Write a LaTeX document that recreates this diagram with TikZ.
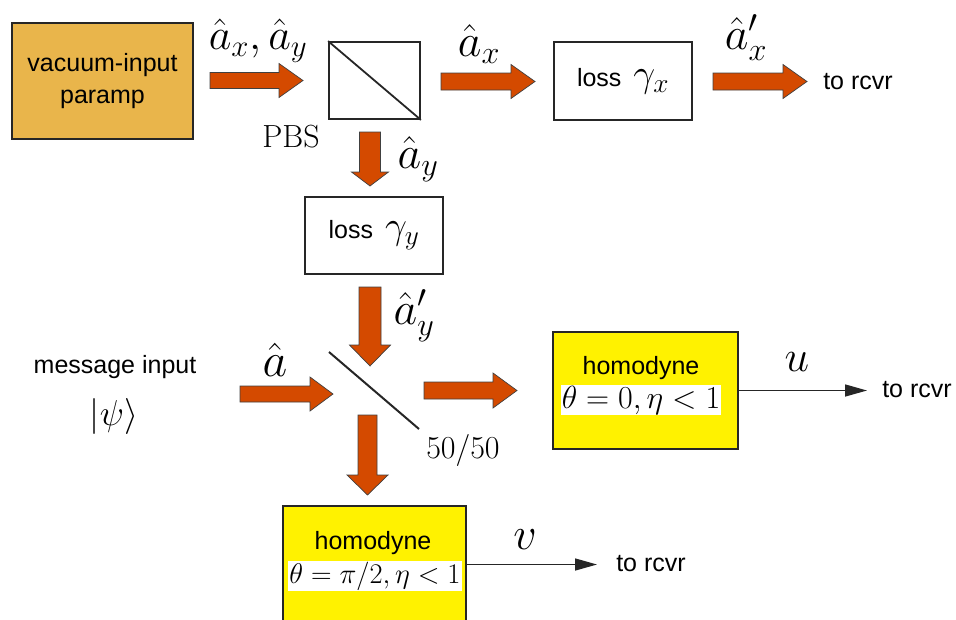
\RequirePackage{fix-cm}
\documentclass[tikz,border=0pt]{standalone}
\usepackage{fontspec}
\newfontfamily\arial{Liberation Sans}
\usetikzlibrary{calc,arrows.meta}
\definecolor{fatorange}{HTML}{D44A00}
\definecolor{parampfill}{HTML}{E9B54B}
\definecolor{homyellow}{HTML}{FFF200}
\newcommand\msize[1]{\fontsize{#1}{#1}\selectfont}
% fat arrow to the right: start, tip, shaft half width, head half width, head length
\newcommand\fatR[5]{\draw[fat] let \p1=(#1), \p2=(#2) in
  (\x1,\y1+#3) -- (\x2-#5,\y1+#3) -- (\x2-#5,\y1+#4) -- (\x2,\y1) --
  (\x2-#5,\y1-#4) -- (\x2-#5,\y1-#3) -- (\x1,\y1-#3) -- cycle;}
% fat arrow downwards
\newcommand\fatD[5]{\draw[fat] let \p1=(#1), \p2=(#2) in
  (\x1-#3,\y1) -- (\x1-#3,\y2+#5) -- (\x1-#4,\y2+#5) -- (\x1,\y2) --
  (\x1+#4,\y2+#5) -- (\x1+#3,\y2+#5) -- (\x1+#3,\y1) -- cycle;}
\tikzset{
  box/.style={draw=black!85, line width=1.8pt, inner sep=0pt},
  fat/.style={fill=fatorange, draw=black!75, line width=0.7pt, line join=miter},
  txt/.style={font=\arial\fontsize{25}{32}\selectfont, inner sep=0pt},
  mth/.style={inner sep=0pt},
  thinarrow/.style={draw=black!85, line width=1.5pt, -{Triangle[length=22pt,width=12pt]}},
  mathbg/.style={fill=white, inner sep=0pt, minimum height=30pt}
}
\begin{document}
\begin{tikzpicture}[x=1pt,y=-1pt]
\useasboundingbox (0,0) rectangle (956,619);
\clip (0,0) rectangle (956,619);

% boxes
\node[box, txt, fill=parampfill, minimum width=181pt, minimum height=116pt, align=center] (paramp) at (102.5,81) {vacuum-input\\paramp};
\node[box, minimum width=91pt, minimum height=77pt] (pbs) at (374.5,80.5) {};
\draw[line width=1.8pt, black!85] (pbs.north west) -- (pbs.south east);
\node[box, txt, minimum width=138pt, minimum height=78pt] (lossx) at (623,81) {loss\hspace{12pt}{\msize{39}$\gamma_x$}};
\node[box, txt, minimum width=138pt, minimum height=77pt] (lossy) at (374,235.5) {loss\hspace{12pt}{\msize{39}$\gamma_y$}};

\node[box, fill=homyellow, minimum width=185pt, minimum height=117pt] (hom1) at (645.5,390.5) {};
\node[txt] (hom1t) at (641,368) {homodyne};
\node[mathbg, minimum width=160pt, font=\msize{32}] (hom1m) at (641,400) {$\theta=0,\eta<1$};

\node[box, fill=homyellow, minimum width=183pt, minimum height=117pt] (hom2) at (374.5,564.5) {};
\node[txt] (hom2t) at (373,543) {homodyne};
\node[mathbg, minimum width=174pt, font=\msize{28.5}] (hom2m) at (375,576) {$\theta=\pi/2,\eta<1$};

% beam splitter
\coordinate (bs1) at (329,352);
\coordinate (bs2) at (419,429);
\draw[line width=2pt, black!85] (bs1) -- (bs2);

% fat arrows
\coordinate (f1s) at (210,80.5);  \coordinate (f1e) at (303,80.5);
\coordinate (f2s) at (441,81.5);  \coordinate (f2e) at (535,81.5);
\coordinate (f3s) at (713,81.5);  \coordinate (f3e) at (807,81.5);
\coordinate (f4s) at (370,132);   \coordinate (f4e) at (370,186);
\coordinate (f5s) at (370,287);   \coordinate (f5e) at (370,366);
\coordinate (f6s) at (240,394);   \coordinate (f6e) at (333,394);
\coordinate (f7s) at (424,390.5); \coordinate (f7e) at (517,390.5);
\coordinate (f8s) at (367.5,415); \coordinate (f8e) at (367.5,495);
\fatR{f1s}{f1e}{8pt}{17pt}{24pt}
\fatR{f2s}{f2e}{8.5pt}{17pt}{24pt}
\fatR{f3s}{f3e}{8.5pt}{17pt}{24pt}
\fatD{f4s}{f4e}{10.5pt}{18.5pt}{14pt}
\fatD{f5s}{f5e}{11pt}{20.5pt}{21pt}
\fatR{f6s}{f6e}{8pt}{17pt}{23pt}
\fatR{f7s}{f7e}{8.5pt}{17.5pt}{24pt}
\fatD{f8s}{f8e}{9.5pt}{20.5pt}{20pt}

% thin output arrows
\coordinate (u1) at (867,390.5);
\coordinate (v1) at (597,564.5);
\draw[thinarrow] (hom1.east) -- (u1);
\draw[thinarrow] (hom2.east) -- (v1);

% labels
\node[mth, font=\msize{44}] (lab1) at (258,41) {$\hat a_x,\hat a_y$};
\node[mth, font=\msize{46}] (labax) at (479,44) {$\hat a_x$};
\node[mth, font=\msize{46}] (labaxp) at (746,38) {$\hat a'_x$};
\node[txt] (torcvr1) at (858,82) {to rcvr};
\node[mth, font=\rmfamily\msize{32}] (pbslab) at (291,137) {PBS};
\node[mth, font=\msize{46}] (labay) at (418,159) {$\hat a_y$};
\node[mth, font=\msize{46}] (labayp) at (414,316) {$\hat a'_y$};
\node[txt] (msg) at (115,367) {message input};
\node[mth, font=\msize{36}] (psi) at (114,416) {$|\psi\rangle$};
\node[mth, font=\msize{48}] (laba) at (275,360) {$\hat a$};
\node[mth, font=\msize{32}] (fifty) at (463,450) {$50/50$};
\node[mth, font=\msize{44}] (labu) at (797,362) {$u$};
\node[txt] (torcvr2) at (917,390) {to rcvr};
\node[mth, font=\msize{46}] (labv) at (525,540) {$v$};
\node[txt] (torcvr3) at (651,564) {to rcvr};
\end{tikzpicture}
\end{document}
